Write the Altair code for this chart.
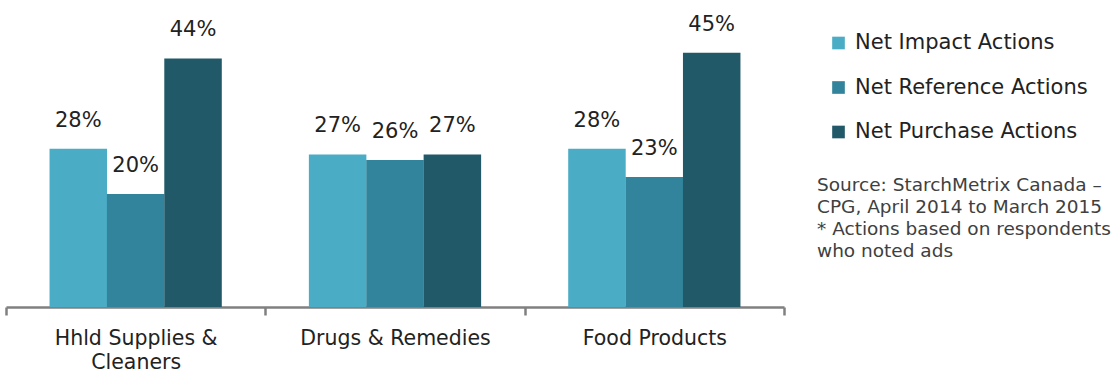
import altair as alt
import pandas as pd

categories = ["Hhld Supplies & Cleaners", "Drugs & Remedies", "Food Products"]
series = ["Net Impact Actions", "Net Reference Actions", "Net Purchase Actions"]
impact = [28, 27, 28]
reference = [20, 26, 23]
purchase = [44, 27, 45]
colors = ["#4BACC6", "#31849B", "#215968"]
source_lines = [
    "Source: StarchMetrix Canada \u2013",
    "CPG, April 2014 to March 2015",
    "* Actions based on respondents",
    "who noted ads",
]

rows = []
for s, vals in zip(series, [impact, reference, purchase]):
    for c, v in zip(categories, vals):
        rows.append({"category": c, "series": s, "value": v, "label": f"{v}%"})
df = pd.DataFrame(rows)

FONT = "DejaVu Sans"

x = alt.X(
    "category:N",
    sort=categories,
    title=None,
    scale=alt.Scale(paddingInner=0, paddingOuter=0),
    axis=alt.Axis(
        labelAngle=0,
        labelFont=FONT,
        labelFontSize=20.5,
        labelColor="#222222",
        labelBaseline="top",
        labelPadding=13,
        labelLineHeight=24,
        labelLimit=0,
        labelExpr="datum.value == 'Hhld Supplies & Cleaners' ? ['Hhld Supplies &', 'Cleaners'] : datum.label",
        domainColor="#808080",
        domainWidth=2.5,
        tickColor="#808080",
        tickWidth=2.5,
        tickSize=8,
        tickBand="extent",
    ),
)
xo = alt.XOffset("series:N", sort=series, scale=alt.Scale(paddingInner=0, paddingOuter=0.76))
y = alt.Y("value:Q", scale=alt.Scale(domain=[0, 50]), axis=None)

bars = alt.Chart(df).mark_bar(size=57.5).encode(
    x=x,
    xOffset=xo,
    y=y,
    color=alt.Color(
        "series:N",
        sort=series,
        scale=alt.Scale(domain=series, range=colors),
        legend=alt.Legend(
            title=None,
            orient="none",
            legendX=822,
            legendY=8,
            symbolType="square",
            symbolSize=160,
            symbolStrokeWidth=0,
            labelFont=FONT,
            labelFontSize=21,
            labelColor="#222222",
            labelOffset=6,
            labelLimit=0,
            rowPadding=22.5,
            padding=0,
        ),
    ),
)

labels = alt.Chart(df).mark_text(
    font=FONT, fontSize=21, color="#222222", baseline="middle", dy=-28
).encode(x=x, xOffset=xo, y=y, text="label:N")

src = pd.DataFrame({"t": ["\n".join(source_lines)]})
note = alt.Chart(src).mark_text(
    font=FONT, fontSize=18.5, color="#404040", align="left", baseline="top",
    lineBreak="\n", lineHeight=22,
).encode(x=alt.value(811), y=alt.value(151.5), text="t:N")

chart = alt.layer(bars, labels, note).properties(
    width=778,
    height=282.5,
    autosize=alt.AutoSizeParams(type="none"),
    padding={"left": 6, "top": 24.5, "right": 336, "bottom": 70},
).configure_view(stroke=None)

chart.save("out.html", embed_options={"renderer": "svg", "actions": False})
